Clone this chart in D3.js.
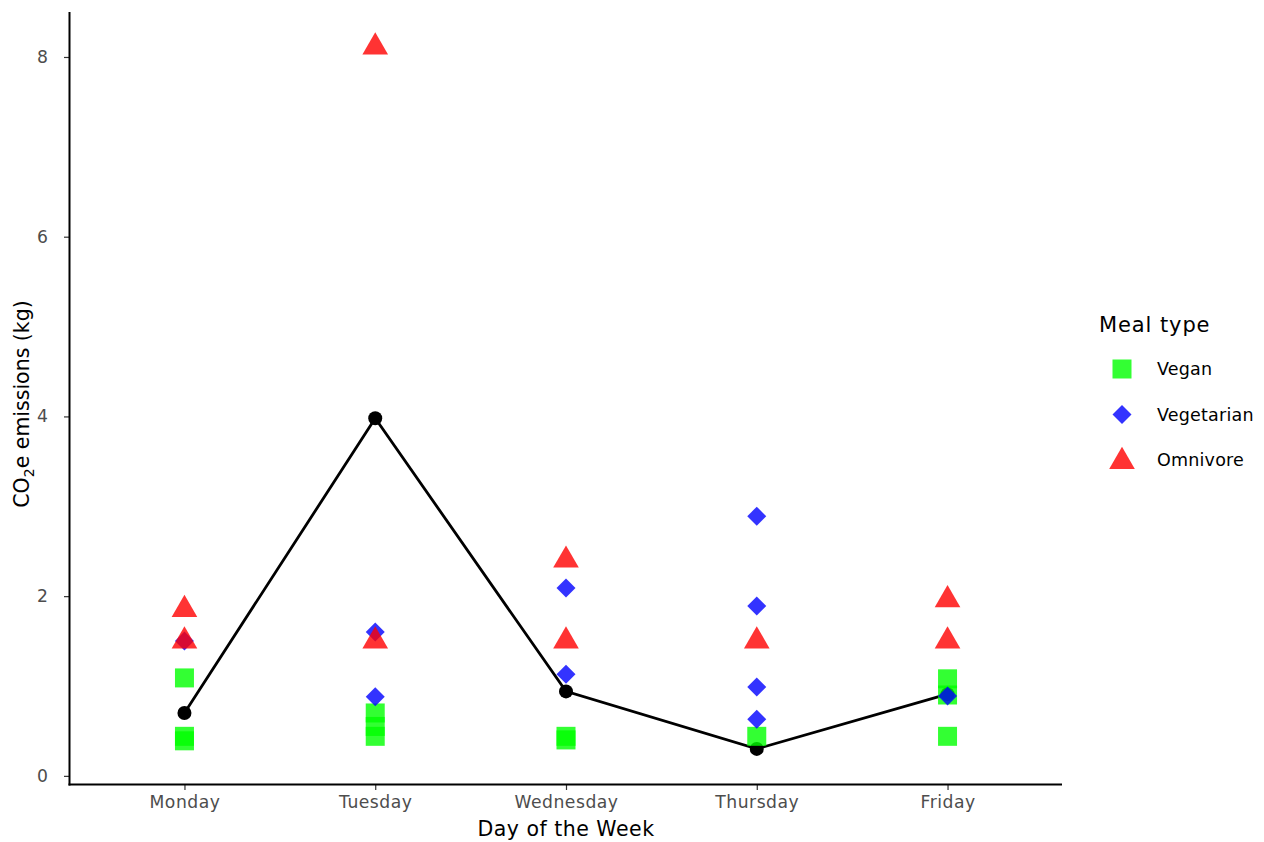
<!DOCTYPE html>
<html>
<head>
<meta charset="utf-8">
<script src="https://cdn.jsdelivr.net/npm/d3@7"></script>
<style>
  html, body { margin: 0; padding: 0; background: #ffffff; }
  svg { display: block; font-family: "DejaVu Sans", "Noto Sans", sans-serif; }
</style>
</head>
<body>
<svg id="chart" width="1264" height="842"></svg>
<script>
const days = ["Monday", "Tuesday", "Wednesday", "Thursday", "Friday"];

const veganDays   = ["Monday", "Monday", "Monday", "Tuesday", "Tuesday", "Tuesday", "Wednesday", "Wednesday", "Thursday", "Friday", "Friday", "Friday"];
const veganValues = [1.09, 0.44, 0.39, 0.70, 0.55, 0.44, 0.44, 0.40, 0.44, 1.08, 0.90, 0.44];

const vegetarianDays   = ["Monday", "Tuesday", "Tuesday", "Wednesday", "Wednesday", "Thursday", "Thursday", "Thursday", "Thursday", "Friday"];
const vegetarianValues = [1.50, 1.60, 0.88, 2.09, 1.13, 2.89, 1.89, 0.99, 0.63, 0.89];

const omnivoreDays   = ["Monday", "Monday", "Tuesday", "Tuesday", "Wednesday", "Wednesday", "Thursday", "Friday", "Friday"];
const omnivoreValues = [1.85, 1.50, 8.11, 1.50, 2.40, 1.50, 1.50, 1.96, 1.50];

const lineValues = [0.70, 3.98, 0.94, 0.30, 0.91];

const yTicks = [0, 2, 4, 6, 8];
const legendLabels = ["Vegan", "Vegetarian", "Omnivore"];
const legendTitle = "Meal type";

const svg = d3.select("#chart");
const panel = { left: 70, right: 1062, top: 12, bottom: 784 };

// ggplot discrete expansion: 0.6 units each side
const xBand = (panel.right - panel.left) / (days.length - 1 + 1.2);
const x = d3.scalePoint().domain(days)
  .range([panel.left + 0.6 * xBand, panel.right - 0.6 * xBand]).padding(0);

const allVals = [].concat(veganValues, vegetarianValues, omnivoreValues, lineValues);
const vmin = d3.min(allVals), vmax = d3.max(allVals);
const pad = 0.05 * (vmax - vmin);
const y = d3.scaleLinear().domain([vmin - pad, vmax + pad]).range([panel.bottom, panel.top]);

const colors = ["rgba(0,255,0,0.8)", "rgba(0,0,255,0.8)", "rgba(255,0,0,0.8)"];

// axes
const xAxis = d3.axisBottom(x).tickSize(5).tickPadding(5.5);
const gx = svg.append("g").attr("transform", `translate(0,${panel.bottom + 1})`).call(xAxis);
gx.select(".domain").remove();
gx.selectAll(".tick line").attr("stroke", "#333").attr("stroke-width", 1.2);
gx.selectAll(".tick text").attr("fill", "#4d4d4d").attr("font-size", 17.2)
  .attr("letter-spacing", 0.5).attr("font-family", "DejaVu Sans").attr("dy", "0.75em");

const yAxis = d3.axisLeft(y).tickValues(yTicks).tickFormat(d3.format("d")).tickSize(5).tickPadding(16);
const gy = svg.append("g").attr("transform", `translate(${panel.left - 1},0)`).call(yAxis);
gy.select(".domain").remove();
gy.selectAll(".tick line").attr("stroke", "#333").attr("stroke-width", 1.2);
gy.selectAll(".tick text").attr("fill", "#4d4d4d").attr("font-size", 17.2).attr("font-family", "DejaVu Sans");

// axis lines
svg.append("line").attr("x1", panel.left - 0.5).attr("x2", panel.left - 0.5)
  .attr("y1", panel.top).attr("y2", panel.bottom + 1.5).attr("stroke", "#000").attr("stroke-width", 2);
svg.append("line").attr("x1", panel.left - 1.5).attr("x2", panel.right)
  .attr("y1", panel.bottom + 0.5).attr("y2", panel.bottom + 0.5).attr("stroke", "#000").attr("stroke-width", 2);

// line + dots
const lineData = days.map((d, i) => ({ day: d, v: lineValues[i] }));
svg.append("path").datum(lineData)
  .attr("fill", "none").attr("stroke", "#000").attr("stroke-width", 2.8)
  .attr("d", d3.line().x(d => x(d.day)).y(d => y(d.v)));
svg.selectAll("circle.mean").data(lineData).enter().append("circle")
  .attr("class", "mean").attr("cx", d => x(d.day)).attr("cy", d => y(d.v)).attr("r", 7).attr("fill", "#000");

// shape paths
function squarePath(s) { const h = s / 2; return `M${-h},${-h}L${h},${-h}L${h},${h}L${-h},${h}Z`; }
function diamondPath(s) { const h = s / 2; return `M0,${-h}L${h},0L0,${h}L${-h},0Z`; }
function trianglePath(r) { const xc = r * Math.sqrt(3) / 2; return `M0,${-r}L${xc},${r / 2}L${-xc},${r / 2}Z`; }
const shapes = [squarePath(19), diamondPath(19), trianglePath(14.8)];

const series = [
  { days: veganDays, values: veganValues },
  { days: vegetarianDays, values: vegetarianValues },
  { days: omnivoreDays, values: omnivoreValues }
];
series.forEach((s, k) => {
  const pts = s.days.map((d, i) => ({ day: d, v: s.values[i] }));
  svg.append("g").selectAll("path").data(pts).enter().append("path")
    .attr("d", shapes[k]).attr("fill", colors[k])
    .attr("transform", d => `translate(${x(d.day)},${y(d.v)})`);
});

// axis titles
svg.append("text").attr("x", (panel.left + panel.right) / 2).attr("y", 836)
  .attr("text-anchor", "middle").attr("font-size", 20.5).attr("letter-spacing", 0.5)
  .attr("fill", "#000").text("Day of the Week");
const yt = svg.append("text").attr("transform", `translate(29,${(panel.top + panel.bottom) / 2 + 6}) rotate(-90)`)
  .attr("text-anchor", "middle").attr("font-size", 20.5).attr("fill", "#000");
yt.append("tspan").text("CO");
yt.append("tspan").attr("font-size", 14).attr("dy", 5).text("2");
yt.append("tspan").attr("dy", -5).text("e emissions (kg)");

// legend
svg.append("text").attr("x", 1099).attr("y", 332).attr("font-size", 21).attr("letter-spacing", 0.9)
  .attr("fill", "#000").text(legendTitle);
const lg = svg.append("g");
legendLabels.forEach((lab, k) => {
  const cy = 369 + k * 45.5;
  lg.append("path").attr("d", shapes[k]).attr("fill", colors[k])
    .attr("transform", `translate(1122,${k === 2 ? cy + 1.5 : cy})`);
  lg.append("text").attr("x", 1157).attr("y", cy).attr("dy", "0.35em")
    .attr("font-size", 17.5).attr("letter-spacing", 0.2).attr("fill", "#000").text(lab);
});
</script>
</body>
</html>
